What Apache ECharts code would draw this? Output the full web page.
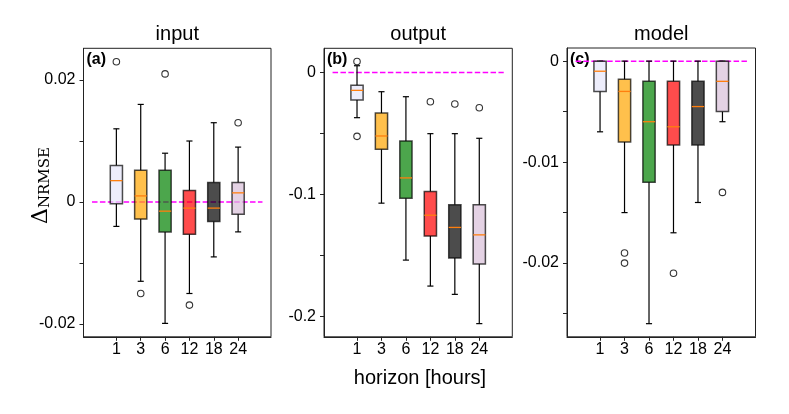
<!DOCTYPE html>
<html>
<head>
<meta charset="utf-8">
<script src="https://cdn.jsdelivr.net/npm/echarts@6/dist/echarts.min.js"></script>
<style>
  html, body { margin: 0; padding: 0; background: #fff; }
  #chart { width: 789px; height: 414px; }
</style>
</head>
<body>
<div id="chart"></div>
<script>
// forecast horizons (hours) and their box positions on the x axis
const horizons = ["1", "3", "6", "12", "18", "24"];
const positions = [1, 2, 3, 4, 5, 6];
const boxColors = [
  "rgba(230,230,250,0.7)", "rgba(255,165,0,0.7)", "rgba(0,128,0,0.7)",
  "rgba(255,0,0,0.7)", "rgba(0,0,0,0.7)", "rgba(216,191,216,0.7)",
];

// each row: [position, lower whisker, Q1, median, Q3, upper whisker]
const inputBoxes = [
  [1, -0.0040, -0.0003, 0.0035, 0.0060, 0.0120],
  [2, -0.0130, -0.0028, 0.0010, 0.0052, 0.0160],
  [3, -0.0199, -0.0049, -0.0015, 0.0052, 0.0080],
  [4, -0.0150, -0.0053, -0.0010, 0.0019, 0.0100],
  [5, -0.0090, -0.0032, -0.0010, 0.0032, 0.0130],
  [6, -0.0049, -0.0020, 0.0015, 0.0032, 0.0090],
];
const inputOutliers = [[1, 0.0230], [2, -0.0150], [3, 0.0210], [4, -0.0169], [6, 0.0130]];

const outputBoxes = [
  [1, -0.0371, -0.0226, -0.0147, -0.0106, 0.0055],
  [2, -0.1072, -0.0630, -0.0521, -0.0333, -0.0158],
  [3, -0.1539, -0.1031, -0.0865, -0.0562, -0.0199],
  [4, -0.1752, -0.1342, -0.1171, -0.0977, -0.0502],
  [5, -0.1820, -0.1522, -0.1271, -0.1086, -0.0502],
  [6, -0.2060, -0.1571, -0.1332, -0.1086, -0.0540],
];
const outputOutliers = [[1, 0.0090], [1, -0.0524], [4, -0.0240], [5, -0.0259], [6, -0.0289]];

const modelBoxes = [
  [1, -0.0070, -0.0030, -0.0010, 0.0000, 0.0000],
  [2, -0.0150, -0.0080, -0.0030, -0.0018, 0.0000],
  [3, -0.0260, -0.0120, -0.0060, -0.0020, 0.0000],
  [4, -0.0170, -0.0083, -0.0065, -0.0020, 0.0000],
  [5, -0.0140, -0.0083, -0.0045, -0.0020, 0.0000],
  [6, -0.0060, -0.0050, -0.0020, 0.0000, 0.0000],
];
const modelOutliers = [[2, -0.0190], [2, -0.0200], [4, -0.0210], [6, -0.0130]];

// reference line y = 0, drawn from x = 0 to x = 7
const zeroLine = [[0, 0], [7, 0]];

// y ranges, ticks and labelled ticks per panel
const panels = [
  { title: "input", tag: "(a)", boxes: inputBoxes, outliers: inputOutliers,
    yMin: -0.0221, yMax: 0.0252, ticks: [-0.02, -0.01, 0, 0.01, 0.02], labels: [-0.02, 0, 0.02] },
  { title: "output", tag: "(b)", boxes: outputBoxes, outliers: outputOutliers,
    yMin: -0.2168, yMax: 0.0198, ticks: [-0.2, -0.15, -0.1, -0.05, 0], labels: [-0.2, -0.1, 0] },
  { title: "model", tag: "(c)", boxes: modelBoxes, outliers: modelOutliers,
    yMin: -0.0273, yMax: 0.0013, ticks: [-0.025, -0.02, -0.015, -0.01, -0.005, 0], labels: [-0.02, -0.01, 0] },
];

const gridBoxes = [
  { left: 83.5, top: 48.3, width: 187.5, height: 288.5 },
  { left: 324, top: 48.3, width: 188.3, height: 288.5 },
  { left: 567, top: 48, width: 188.5, height: 288.8 },
];

const FONT = "Liberation Sans, Arial, Helvetica, sans-serif";
const EDGE = "#222";

function renderBox(params, api) {
  const x = api.value(0);
  const lo = api.coord([x, api.value(1)]);
  const q1 = api.coord([x, api.value(2)]);
  const med = api.coord([x, api.value(3)]);
  const q3 = api.coord([x, api.value(4)]);
  const hi = api.coord([x, api.value(5)]);
  const w = api.size([0.5, 0])[0];
  const cx = lo[0];
  const half = w / 2;
  const cap = w / 4;
  const wh = { stroke: "#000", lineWidth: 1.2 };
  return {
    type: "group",
    children: [
      { type: "line", shape: { x1: cx, y1: q1[1], x2: cx, y2: lo[1] }, style: wh },
      { type: "line", shape: { x1: cx, y1: q3[1], x2: cx, y2: hi[1] }, style: wh },
      { type: "line", shape: { x1: cx - cap, y1: lo[1], x2: cx + cap, y2: lo[1] }, style: wh },
      { type: "line", shape: { x1: cx - cap, y1: hi[1], x2: cx + cap, y2: hi[1] }, style: wh },
      {
        type: "rect",
        shape: { x: cx - half, y: q3[1], width: w, height: q1[1] - q3[1] },
        style: { fill: boxColors[params.dataIndex], stroke: "rgba(0,0,0,0.7)", lineWidth: 1.5 },
      },
      {
        type: "line",
        shape: { x1: cx - half, y1: med[1], x2: cx + half, y2: med[1] },
        style: { stroke: "#ff7f0e", lineWidth: 1.3 },
      },
    ],
  };
}

const fmt = (v) => String(+(+v).toFixed(3));

const option = {
  animation: false,
  backgroundColor: "#fff",
  grid: gridBoxes.map((g) => ({ ...g, show: true, borderColor: EDGE, borderWidth: 1, backgroundColor: "transparent" })),
  xAxis: panels.map((p, i) => ({
    type: "value",
    gridIndex: i,
    min: -0.35,
    max: 7.35,
    splitLine: { show: false },
    axisLine: { show: true, onZero: false, lineStyle: { color: EDGE, width: 1 } },
    axisTick: { show: true, length: 4, lineStyle: { color: EDGE }, customValues: positions },
    axisLabel: {
      customValues: positions,
      formatter: (v) => horizons[Math.round(v) - 1],
      fontFamily: FONT, fontSize: 16, color: "#000", margin: 5,
    },
  })),
  yAxis: panels.map((p, i) => ({
    type: "value",
    gridIndex: i,
    min: p.yMin,
    max: p.yMax,
    splitLine: { show: false },
    axisLine: { show: true, onZero: false, lineStyle: { color: EDGE, width: 1 } },
    axisTick: { show: true, length: 4, lineStyle: { color: EDGE }, customValues: p.ticks },
    axisLabel: {
      customValues: p.labels,
      formatter: fmt,
      fontFamily: FONT, fontSize: 16, color: "#000", margin: 8,
    },
  })),
  series: [],
  graphic: [],
};

panels.forEach((p, i) => {
  option.series.push({
    type: "line", xAxisIndex: i, yAxisIndex: i, data: zeroLine, symbol: "none", z: 1,
    lineStyle: { color: "#ff00ff", width: 1.5, type: [5.5, 2.4] }, silent: true,
  });
  option.series.push({
    type: "custom", xAxisIndex: i, yAxisIndex: i, data: p.boxes, z: 3,
    encode: { x: 0, y: [1, 2, 3, 4, 5] }, renderItem: renderBox, silent: true,
  });
  option.series.push({
    type: "scatter", xAxisIndex: i, yAxisIndex: i, data: p.outliers, z: 4,
    symbol: "circle", symbolSize: 6.5, silent: true,
    itemStyle: { color: "rgba(255,255,255,0)", borderColor: "#000", borderWidth: 1.1 },
  });
  const g = gridBoxes[i];
  option.graphic.push({
    type: "text", x: g.left + g.width / 2, y: 34,
    style: { text: p.title, fontFamily: FONT, fontSize: 20, fill: "#000", align: "center", verticalAlign: "middle" },
  });
  option.graphic.push({
    type: "text", x: g.left + 3, y: 60,
    style: { text: p.tag, fontFamily: FONT, fontSize: 16, fontWeight: "bold", fill: "#000", align: "left", verticalAlign: "middle" },
  });
});

option.graphic.push({
  type: "text", x: 420, y: 378,
  style: { text: "horizon [hours]", fontFamily: FONT, fontSize: 20, fill: "#000", align: "center", verticalAlign: "middle" },
});
option.graphic.push({
  type: "text", x: 41.5, y: 185.5, rotation: Math.PI / 2,
  style: {
    text: "{d|Δ}{s|NRMSE}",
    align: "center", verticalAlign: "middle",
    rich: {
      d: { fontFamily: "DejaVu Serif", fontSize: 22, fill: "#000", verticalAlign: "bottom" },
      s: { fontFamily: "DejaVu Serif", fontSize: 15, fill: "#000", verticalAlign: "bottom" },
    },
  },
});

const chart = echarts.init(document.getElementById("chart"), null, { renderer: "canvas" });
chart.setOption(option);
</script>
</body>
</html>
